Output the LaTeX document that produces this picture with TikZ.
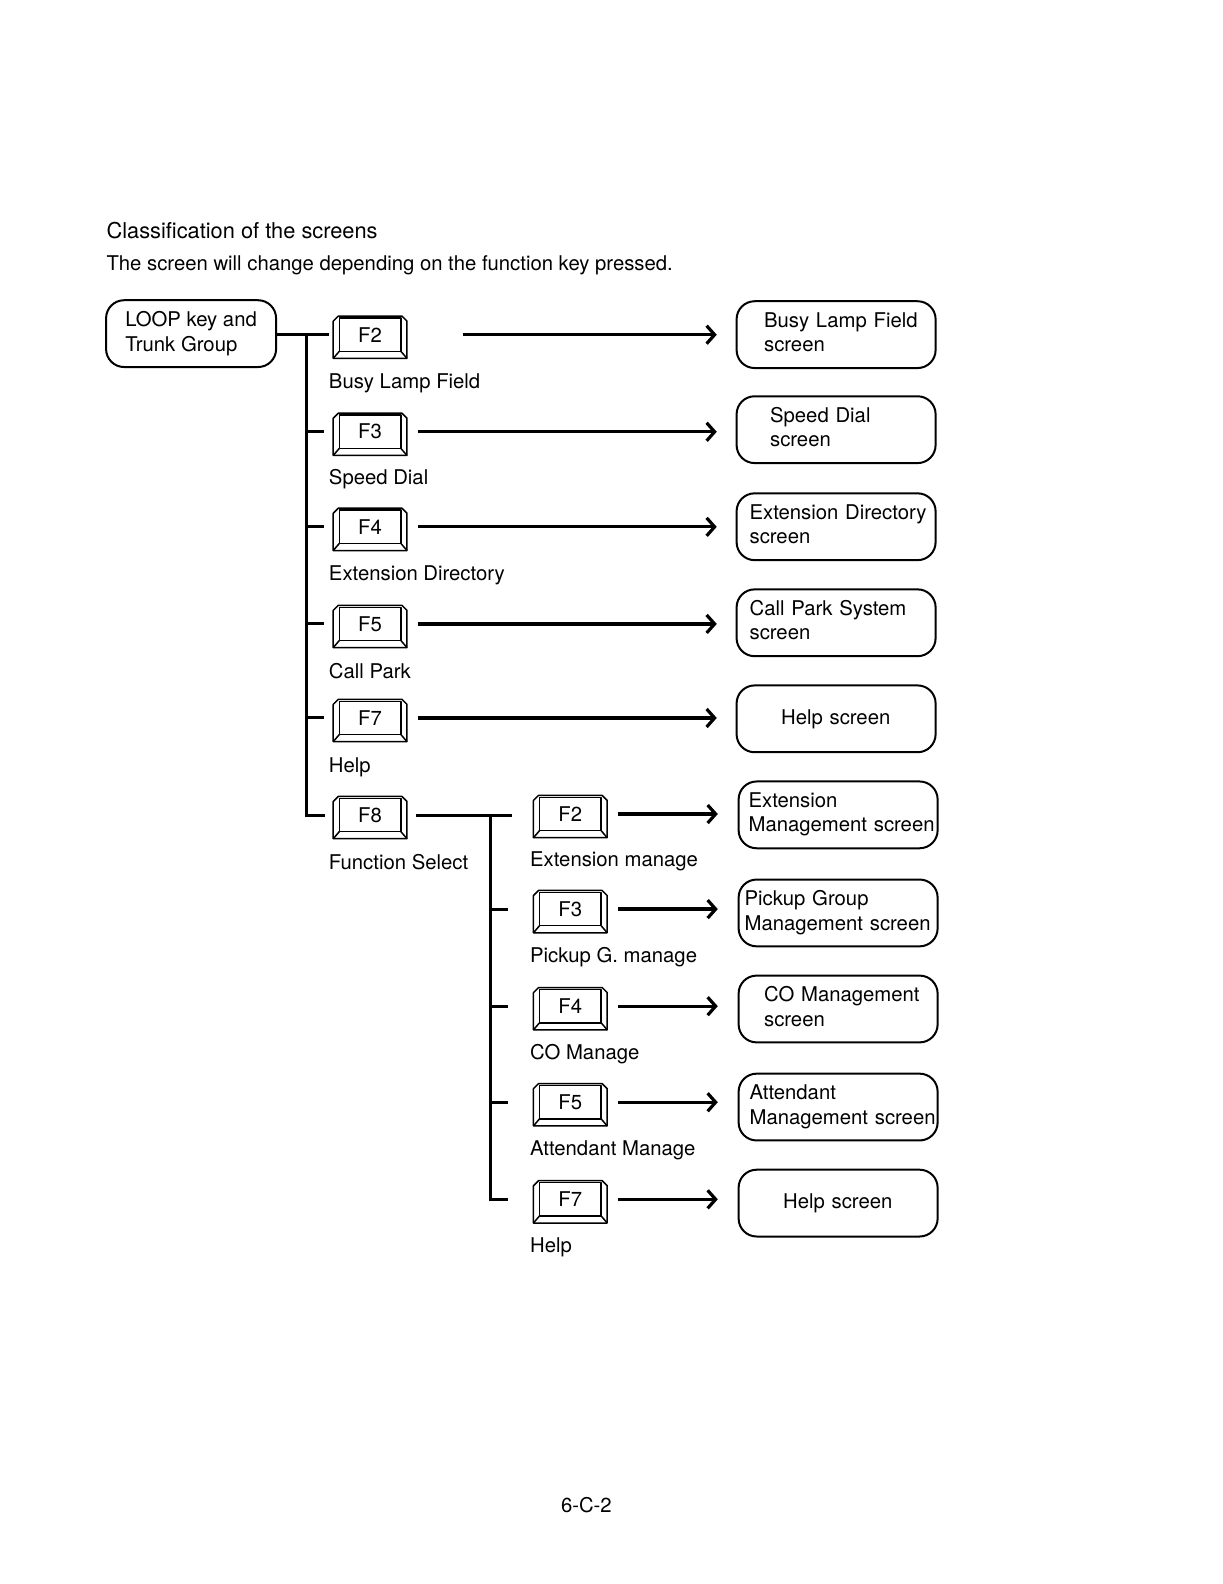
\documentclass[tikz,border=0pt]{standalone}
\usepackage{fontspec}
\setmainfont{TeX Gyre Heros}
\usetikzlibrary{arrows.meta,calc}
\newcommand\fkey[3]{%
  \node[keyface] (#1) at (#2) {#3};
  \draw[keyline] ($(#1.north west)+(-1,-2)$) -- ($(#1.north east)+(1,-2)$) -- ($(#1.north east)+(6,3)$) -- ($(#1.south east)+(6,7)$) -- ($(#1.south west)+(-6,7)$) -- ($(#1.north west)+(-6,3)$) -- cycle;
  \draw[keyline] (#1.north west) rectangle (#1.south east);
  \draw[keyline] (#1.south west) -- ++(-6,7) (#1.south east) -- ++(6,7);
}
\newcommand\scrtxt[3]{\hspace*{#1}\begin{tabular}{@{}l@{}}#2\\#3\end{tabular}}
\begin{document}
\begin{tikzpicture}[x=0.5pt,y=-0.5pt,
  font=\fontsize{10.15}{12.2}\selectfont,
  screenbox/.style={draw, line width=1pt, rounded corners=9pt, minimum height=33.4pt, text width=96pt, inner xsep=1.75pt, inner ysep=0pt, align=left},
  keyface/.style={minimum width=30.4pt, minimum height=16.2pt, inner sep=0pt},
  keyline/.style={line width=0.75pt, line join=round},
  lbl/.style={anchor=west, inner sep=0pt},
  trunk/.style={line width=1.5pt},
  arr/.style={line width=1.6pt, -{Straight Barb[length=4pt,width=9pt]}}]
\useasboundingbox (0,0) rectangle (1222,1584);
\fill[white] (0,0) rectangle (1222,1584);
\begin{scope}[scale=1.011]
% heading
\node[lbl, font=\fontsize{10.9}{13}\selectfont] (title) at (105,228) {Classification of the screens};
\node[lbl] (sub) at (105,262) {The screen will change depending on the function key pressed.};

% start box
\node[draw, line width=1pt, rounded corners=9pt, minimum width=85pt, minimum height=33.4pt, align=left] (loop) at (189,330) {LOOP key and\\Trunk Group};

% first column of keys
\fkey{k12}{366,331}{F2}
\fkey{k13}{366,427}{F3}
\fkey{k14}{366,521}{F4}
\fkey{k15}{366,617}{F5}
\fkey{k17}{366,710}{F7}
\fkey{k18}{366,806}{F8}

\node[lbl] (l12) at (325,379) {Busy Lamp Field};
\node[lbl] (l13) at (325,474) {Speed Dial};
\node[lbl] (l14) at (325,569) {Extension Directory};
\node[lbl] (l15) at (325,664) {Call Park};
\node[lbl] (l17) at (325,759) {Help};
\node[lbl] (l18) at (325,853) {Function Select};

% second column of keys
\fkey{k22}{564,805}{F2}
\fkey{k23}{564,899}{F3}
\fkey{k24}{564,995}{F4}
\fkey{k25}{564,1090}{F5}
\fkey{k27}{564,1186}{F7}

\node[lbl] (l22) at (524,852) {Extension manage};
\node[lbl] (l23) at (524,947) {Pickup G. manage};
\node[lbl] (l24) at (524,1043) {CO Manage};
\node[lbl] (l25) at (524,1138) {Attendant Manage};
\node[lbl] (l27) at (524,1234) {Help};

% screens
\node[screenbox] (b1) at (827,331) {\scrtxt{12pt}{Busy Lamp Field}{screen}};
\node[screenbox] (b2) at (827,425) {\scrtxt{15pt}{Speed Dial}{screen}};
\node[screenbox] (b3) at (827,521) {\scrtxt{4.75pt}{Extension Directory}{screen}};
\node[screenbox] (b4) at (827,616) {\scrtxt{4.75pt}{Call Park System}{screen}};
\node[screenbox] (b5) at (827,711) {\hspace*{20.5pt}Help screen};
\node[screenbox] (b6) at (829,806) {\scrtxt{3.25pt}{Extension}{Management screen}};
\node[screenbox] (b7) at (829,903) {\scrtxt{1.25pt}{Pickup Group}{Management screen}};
\node[screenbox] (b8) at (829,998) {\scrtxt{11pt}{CO Management}{screen}};
\node[screenbox] (b9) at (829,1095) {\scrtxt{3.75pt}{Attendant}{Management screen}};
\node[screenbox] (b10) at (829,1190) {\hspace*{20.5pt}Help screen};

% first tree
\coordinate (j1) at (303,331);
\draw[trunk] (loop.east |- k12) -- ($(k12.west)+(-10,0)$);
\draw[trunk] (j1) -- (j1 |- k18) -- ($(k18.west)+(-14,0)$);
\foreach \k in {k13,k14,k15,k17}
  \draw[trunk] (j1 |- \k) -- ($(\k.west)+(-15,0)$);

% second tree
\coordinate (j2) at (485,806);
\draw[trunk] ($(k18.east)+(15,0)$) -- ($(k18.east -| k22.west)+(-27,0)$);
\draw[trunk] (j2) -- (j2 |- k27) -- ($(k27.west)+(-31,0)$);
\foreach \k in {k23,k24,k25}
  \draw[trunk] (j2 |- \k) -- ($(\k.west)+(-31,0)$);

% arrows
\draw[arr, shorten <=31pt, shorten >=9.5pt] (k12.east) -- (k12.east -| b1.west);
\draw[arr, shorten <=8.5pt, shorten >=9.5pt] (k13.east) -- (k13.east -| b2.west);
\draw[arr, shorten <=8.5pt, shorten >=9.5pt] (k14.east) -- (k14.east -| b3.west);
\draw[arr, shorten <=8.5pt, shorten >=9.5pt] (k15.east) -- (k15.east -| b4.west);
\draw[arr, shorten <=8.5pt, shorten >=9.5pt] (k17.east) -- (k17.east -| b5.west);
\draw[arr, shorten <=8.5pt, shorten >=10pt] (k22.east) -- (k22.east -| b6.west);
\draw[arr, shorten <=8.5pt, shorten >=10pt] (k23.east) -- (k23.east -| b7.west);
\draw[arr, shorten <=8.5pt, shorten >=10pt] (k24.east) -- (k24.east -| b8.west);
\draw[arr, shorten <=8.5pt, shorten >=10pt] (k25.east) -- (k25.east -| b9.west);
\draw[arr, shorten <=8.5pt, shorten >=10pt] (k27.east) -- (k27.east -| b10.west);

% page number
\node (page) at (580,1489) {6-C-2};
\end{scope}
\end{tikzpicture}
\end{document}
